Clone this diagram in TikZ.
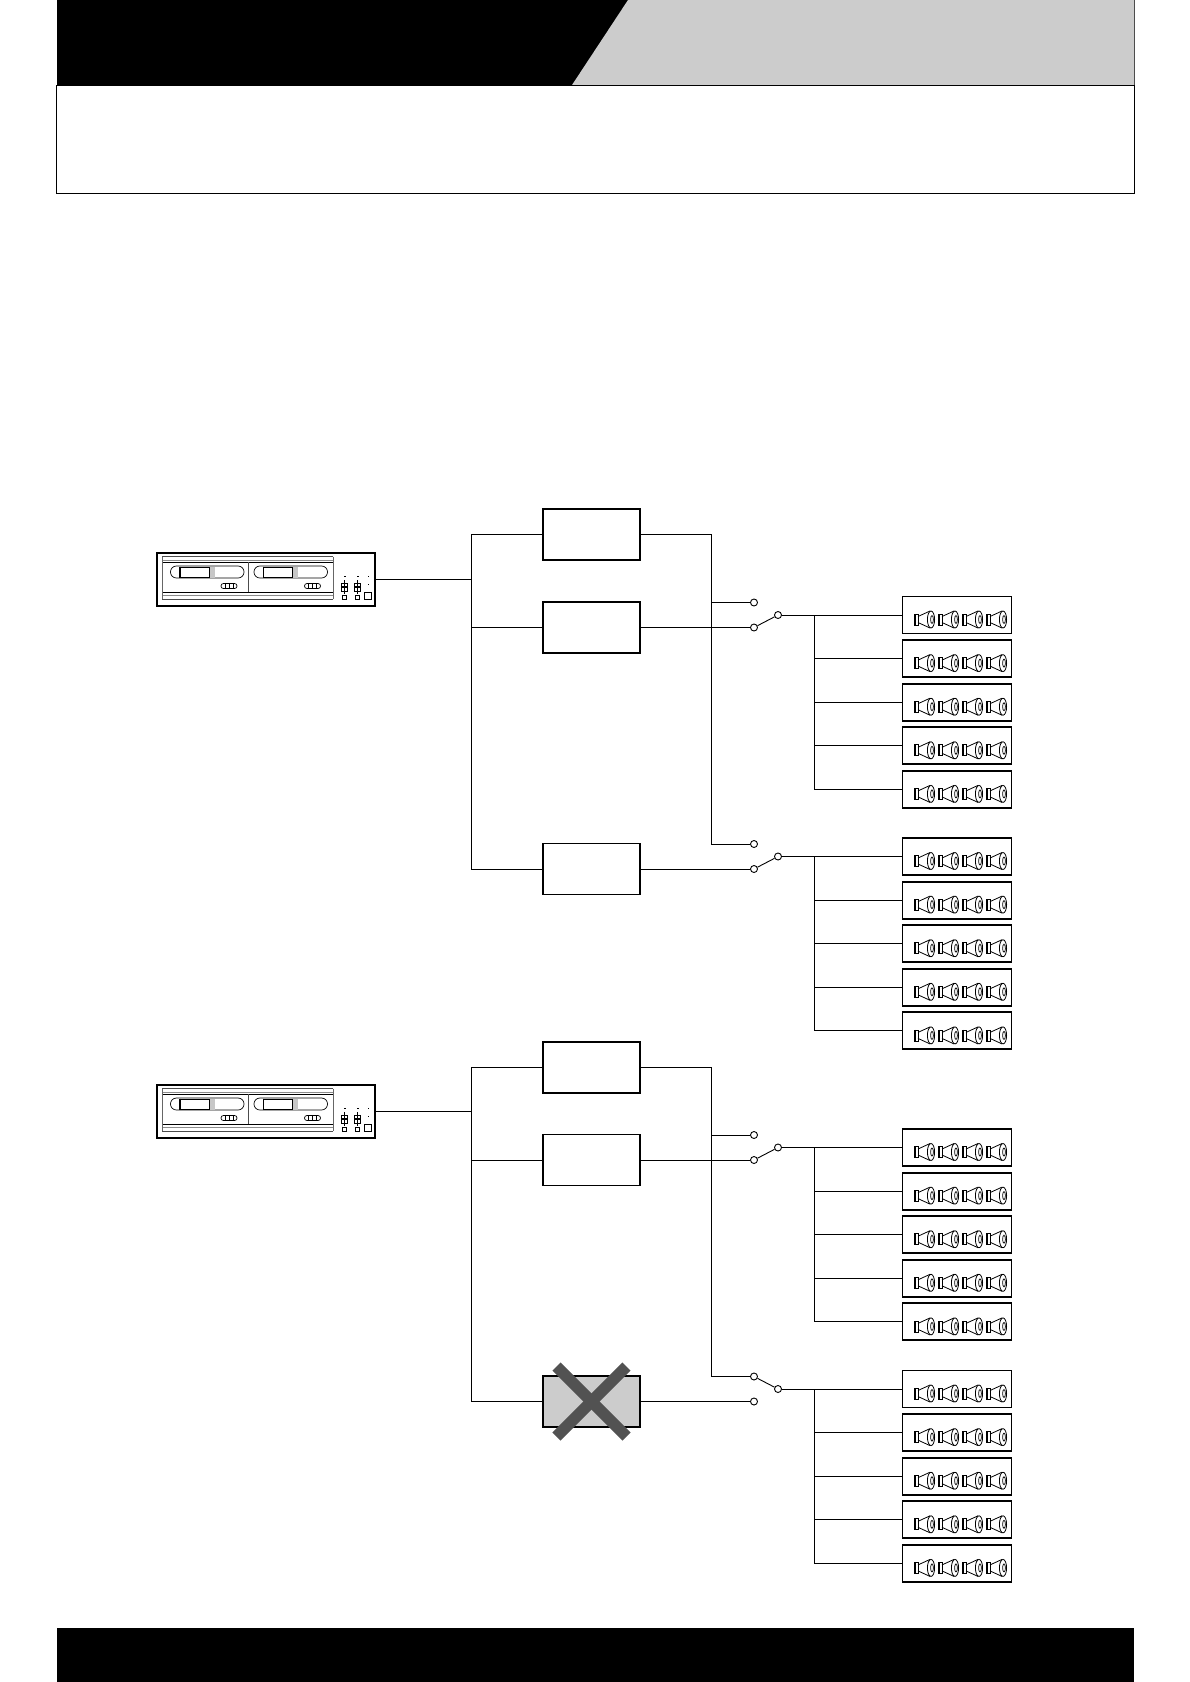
\documentclass[tikz,border=0pt]{standalone}
\tikzset{
  thin line/.style={line width=0.9pt,black},
  frame/.style={draw=black,line width=1.7pt,fill=white,inner sep=0pt,minimum width=97pt,minimum height=51pt},
  ampframe/.style={draw=black,line width=2.2pt,fill=white,inner sep=0pt,minimum width=218pt,minimum height=53pt},
  spkframe/.style={draw=black,line width=1.9pt,fill=white,inner sep=0pt,minimum width=109pt,minimum height=37pt},
  contact/.style={circle,draw=black,line width=0.9pt,fill=white,inner sep=0pt,minimum size=7pt},
  part/.style={line width=0.7pt,black},
  soft/.style={line width=0.9pt,black!45},
  speaker/.pic={
    \draw[line width=0.8pt] (0,-5.5) rectangle (4,5.5);
    \draw[line width=0.6pt] (1.6,-5.5) -- (1.6,5.5);
    \draw[line width=0.8pt] (4,-3) -- (16,-8.5) (4,3) -- (16,8.5);
    \draw[line width=0.8pt,fill=white] (17,0) ellipse (3.6 and 8.5);
    \draw[line width=0.7pt] (18,0) ellipse (1.4 and 4);
  },
  ampfront/.pic={
    \draw[line width=0.8pt,black!70] (5,3.5) -- (176,3.5);
    \draw[soft] (5,7) -- (176,7);
    \draw[line width=0.8pt] (5,9) -- (176,9);
    \draw[part] (5,39) -- (176,39);
    \draw[soft] (5,42.5) -- (176,42.5);
    \draw[line width=0.8pt,black!70] (5,46) -- (176,46);
    \draw[line width=0.5pt,black!60] (5,3.5) -- (5,46) (176,3.5) -- (176,46);
    \draw[line width=0.7pt,black!70] (91,9) -- (91,39);
    \foreach \dx in {0,83.5}{
      \begin{scope}[xshift=\dx pt]
        \draw[part,rounded corners=5.9pt] (13.5,13) rectangle (87,25);
        \fill[black!22] (52,13.5) rectangle (57.5,24.5);
        \draw[line width=1.2pt] (23,13.5) -- (23,24.5) -- (52,24.5);
        \draw[line width=0.6pt] (23,14) -- (52,14) -- (52,24.5);
        \draw[part,rounded corners=2.4pt] (64,30.5) rectangle (80,35.5);
        \draw[line width=0.5pt] (68,30.5) -- (68,35.5) (72,30.5) -- (72,35.5) (76,30.5) -- (76,35.5);
      \end{scope}
    }
    \foreach \dx in {0,13}{
      \begin{scope}[xshift=\dx pt]
        \fill (187,22.5) rectangle +(1.5,1.5);
        \draw[part] (184,30) rectangle (190.5,33.5);
        \draw[part] (184,34.5) rectangle (190.5,38);
        \draw[part] (187.2,27) -- (187.2,41);
        \draw[part] (185,42) rectangle (189.5,46);
      \end{scope}
    }
    \fill (210.5,22.5) rectangle +(1.5,1.5);
    \fill (210.5,30.5) rectangle +(1.5,1.5);
    \draw[part] (207.5,39.5) rectangle (214,46);
  }
}
\newcommand{\spkrow}[2]{%
  \node[spkframe] (#1) at (957,#2) {};
  \foreach \ix in {0,1,2,3}{\pic at (914+24*\ix,#2+4.5) {speaker};}
}
\newcommand{\spkgroup}[3]{% name, first y, which contact the arm touches
  \node[contact] (#1top) at (754,#2-12.5) {};
  \node[contact] (#1low) at (754,#2+12.5) {};
  \node[contact] (#1piv) at (778,#2) {};
  \draw[thin line] (#1piv) -- (#1#3);
  \spkrow{#1a}{#2}
  \spkrow{#1b}{#2+43.6}
  \spkrow{#1c}{#2+87.2}
  \spkrow{#1d}{#2+130.8}
  \spkrow{#1e}{#2+174.4}
  \coordinate (#1bus) at (814.5,#2);
  \draw[thin line] (#1piv) -- (#1a);
  \foreach \r in {b,c,d,e}{\draw[thin line] (#1bus) |- (#1\r);}
}
\begin{document}
\begin{tikzpicture}[x=1pt,y=-1pt]
\useasboundingbox (0,0) rectangle (1190,1682);
\fill[white] (0,0) rectangle (1190,1682);
% header
\fill[black] (56.5,0) rectangle (628,85);
\fill[black!20] (628,0) -- (1134,0) -- (1134,85) -- (572,85) -- cycle;
\draw[line width=1pt] (56.5,85) rectangle (1134,193);
\draw[line width=0.6pt,black!70] (1134,0) -- (1134,85);
\fill[black] (56.5,1627.5) rectangle (1134,1682);
% first system
\node[ampframe] (ampA) at (266,579.5) {};
\pic at (157,553) {ampfront};
\node[frame] (a1) at (591.5,534.5) {};
\node[frame] (a2) at (591.5,627.5) {};
\node[frame] (a3) at (591.5,869) {};
\coordinate (aL) at (471,579.5);
\draw[thin line] (ampA.east) -- (aL);
\draw[thin line] (aL) |- (a1.west);
\draw[thin line] (aL) |- (a2.west);
\draw[thin line] (aL) |- (a3.west);
\spkgroup{p}{615}{low}
\spkgroup{q}{856.5}{low}
\coordinate (aR) at (711.5,534.5);
\draw[thin line] (a1.east) -- (aR) |- (qtop);
\draw[thin line] (aR |- ptop) -- (ptop);
\draw[thin line] (a2.east) -- (plow);
\draw[thin line] (a3.east) -- (qlow);
% second system
\node[ampframe] (ampB) at (266,1111.5) {};
\pic at (157,1085) {ampfront};
\node[frame] (b1) at (591.5,1067.5) {};
\node[frame] (b2) at (591.5,1160) {};
\node[frame,fill=black!20] (b3) at (591.5,1401.5) {};
\coordinate (bL) at (471,1111.5);
\draw[thin line] (ampB.east) -- (bL);
\draw[thin line] (bL) |- (b1.west);
\draw[thin line] (bL) |- (b2.west);
\draw[thin line] (bL) |- (b3.west);
\spkgroup{r}{1147.5}{low}
\spkgroup{s}{1389}{top}
\coordinate (bR) at (711.5,1067.5);
\draw[thin line] (b1.east) -- (bR) |- (stop);
\draw[thin line] (bR |- rtop) -- (rtop);
\draw[thin line] (b2.east) -- (rlow);
\draw[thin line] (b3.east) -- (slow);
\draw[line width=11.5pt,black!68] ([shift={(-35,-35)}]b3.center) -- ([shift={(35,35)}]b3.center);
\draw[line width=11.5pt,black!68] ([shift={(35,-35)}]b3.center) -- ([shift={(-35,35)}]b3.center);
\end{tikzpicture}
\end{document}
